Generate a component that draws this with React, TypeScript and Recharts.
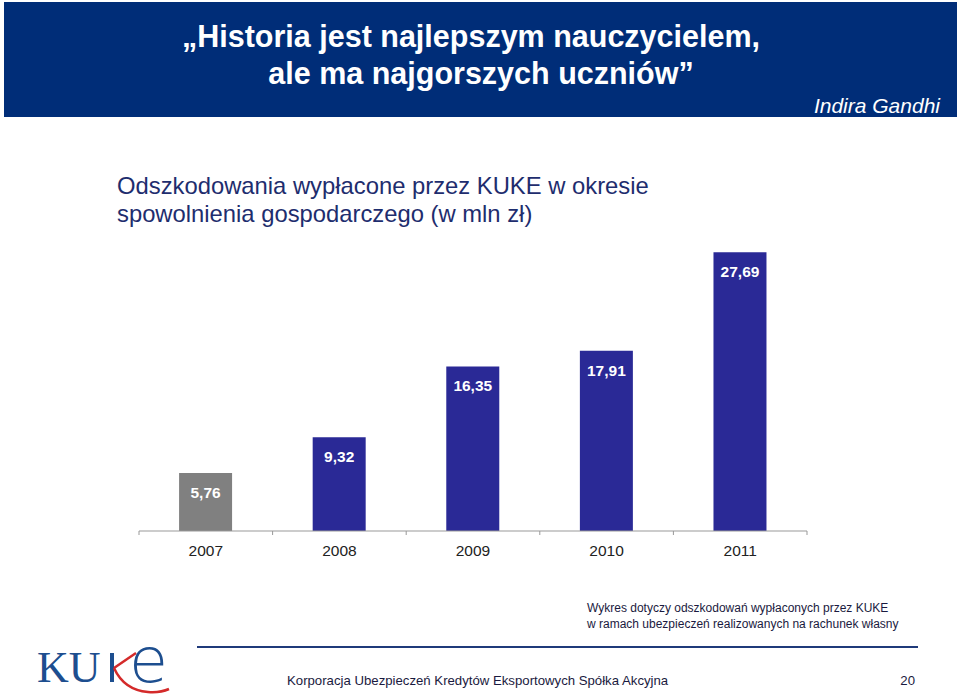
import React from "react";
import { BarChart, Bar, XAxis, YAxis, Cell, LabelList } from "recharts";

const years = ["2007", "2008", "2009", "2010", "2011"];
const values = [5.76, 9.32, 16.35, 17.91, 27.69];
const barColors = ["#808080", "#2a2996", "#2a2996", "#2a2996", "#2a2996"];

const titleLines = ["„Historia jest najlepszym nauczycielem,", "ale ma najgorszych uczniów”"];
const author = "Indira Gandhi";
const subtitleLines = ["Odszkodowania wypłacone przez KUKE w okresie", "spowolnienia gospodarczego (w mln zł)"];
const noteLines = ["Wykres dotyczy odszkodowań wypłaconych przez KUKE", "w ramach ubezpieczeń realizowanych na rachunek własny"];
const footerText = "Korporacja Ubezpieczeń Kredytów Eksportowych Spółka Akcyjna";
const pageNumber = "20";

const data = years.map((y, i) => ({ year: y, value: values[i] }));

const FONT = "'Liberation Sans', Arial, sans-serif";
const SERIF = "'Liberation Serif', 'DejaVu Serif', serif";

const fmt = (v: any) => Number(v).toFixed(2).replace(".", ",");

const YearTick = (props: any) => {
  const { x, y, payload, index, width, visibleTicksCount } = props;
  const half = width && visibleTicksCount ? width / visibleTicksCount / 2 : payload.offset || 0;
  return (
    <g>
      <line x1={x - half} x2={x - half} y1={y} y2={y + 4} stroke="#999" strokeWidth={1} />
      {index === visibleTicksCount - 1 && (
        <line x1={x + half} x2={x + half} y1={y} y2={y + 4} stroke="#999" strokeWidth={1} />
      )}
      <text x={x} y={y + 25} textAnchor="middle" fontFamily={FONT} fontSize={15.5} fill="#222">
        {payload.value}
      </text>
    </g>
  );
};

export default function App() {
  return (
    <div style={{ position: "absolute", left: 0, top: 0, width: 960, height: 698, background: "#fff", overflow: "hidden" }}>
      <svg width={960} height={698} style={{ position: "absolute", left: 0, top: 0 }}>
        <rect x={4} y={2} width={953} height={115} fill="#002d78" />
        <text x={471} y={47} textAnchor="middle" fontFamily={FONT} fontWeight="bold" fontSize={30.5} fill="#fff">
          {titleLines[0]}
        </text>
        <text x={481} y={84} textAnchor="middle" fontFamily={FONT} fontWeight="bold" fontSize={30.5} fill="#fff">
          {titleLines[1]}
        </text>
        <text x={940} y={113} textAnchor="end" fontFamily={FONT} fontStyle="italic" fontSize={21} fill="#fff">
          {author}
        </text>
        <text x={117} y={194} fontFamily={FONT} fontSize={23.8} fill="#1e2d6e">
          {subtitleLines[0]}
        </text>
        <text x={117} y={222} fontFamily={FONT} fontSize={23.8} fill="#1e2d6e">
          {subtitleLines[1]}
        </text>
        <text x={587} y={612} fontFamily={FONT} fontSize={12} fill="#1a1a40">
          {noteLines[0]}
        </text>
        <text x={587} y={628} fontFamily={FONT} fontSize={12} fill="#1a1a40">
          {noteLines[1]}
        </text>
        <line x1={197} x2={918} y1={647} y2={647} stroke="#1f3a7a" strokeWidth={2} />
        <text x={287} y={685} fontFamily={FONT} fontSize={13.2} fill="#1a1a40">
          {footerText}
        </text>
        <text x={915} y={685} textAnchor="end" fontFamily={FONT} fontSize={13.2} fill="#1a1a40">
          {pageNumber}
        </text>
        <text x={37} y={682} fontFamily={SERIF} fontSize={44} fill="#1d4e8f">
          KU
        </text>
        <line x1={112} x2={112} y1={653} y2={682} stroke="#1d4e8f" strokeWidth={4} />
        <path d="M114 668 L136 653" stroke="#d42a2a" strokeWidth={2.5} fill="none" />
        <path d="M114 668 Q 124 690 148 692 Q 160 693 169 689" stroke="#d42a2a" strokeWidth={2.5} fill="none" />
        <text x={129} y={682} fontFamily="'DejaVu Sans', sans-serif" fontWeight={200} fontSize={62} fill="#1d4e8f" textLength={39} lengthAdjust="spacingAndGlyphs">
          e
        </text>
      </svg>
      <div style={{ position: "absolute", left: 0, top: 0 }}>
        <BarChart
          width={960}
          height={600}
          data={data}
          margin={{ top: 229, right: 153, left: 139, bottom: 39 }}
          barCategoryGap="30%"
        >
          <YAxis hide domain={[0, 30]} />
          <XAxis
            dataKey="year"
            height={30}
            tickSize={0}
            tickMargin={0}
            tickLine={false}
            axisLine={{ stroke: "#999", strokeWidth: 1 }}
            tick={<YearTick />}
            interval={0}
          />
          <Bar dataKey="value" isAnimationActive={false}>
            {data.map((d, i) => (
              <Cell key={d.year} fill={barColors[i]} />
            ))}
            <LabelList
              dataKey="value"
              position="insideTop"
              offset={14}
              formatter={fmt}
              fill="#fff"
              fontFamily={FONT}
              fontWeight="bold"
              fontSize={15.5}
            />
          </Bar>
        </BarChart>
      </div>
    </div>
  );
}
